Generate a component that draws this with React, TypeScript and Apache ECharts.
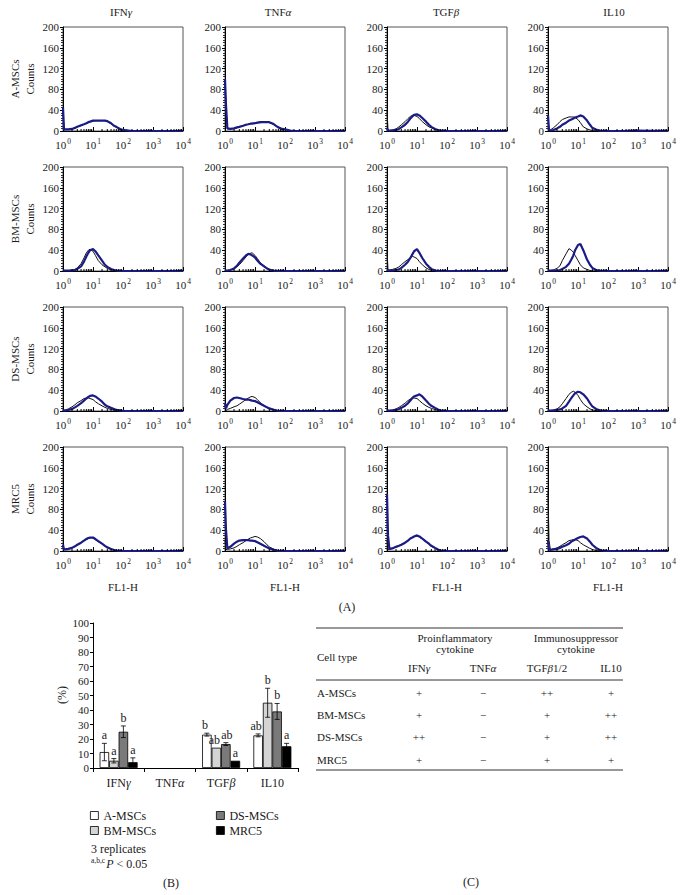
import React, { useEffect, useRef } from "react";
import * as echarts from "echarts";

// ---------- Data ----------
const FL = [1, 1.08, 1.2, 1.5, 2, 2.5, 3, 4, 5, 6, 7, 8, 10, 12, 15, 20, 25, 30, 40, 50, 60, 80, 100, 150, 200, 300, 1000, 10000];
const LOG_MINOR = [2, 3, 4, 5, 6, 7, 8, 9, 20, 30, 40, 50, 60, 70, 80, 90, 200, 300, 400, 500, 600, 700, 800, 900, 2000, 3000, 4000, 5000, 6000, 7000, 8000, 9000];
const X_TICK_EXP = ["0", "1", "2", "3", "4"];
const COL_TITLES = ["IFNγ", "TNFα", "TGFβ", "IL10"];
const ROW_TITLES = ["A-MSCs", "BM-MSCs", "DS-MSCs", "MRC5"];

// A-MSCs
const aIfnIso = [40, 2, 3, 3, 4, 6, 8, 10, 13, 15, 16, 18, 19, 20, 20, 20, 20, 18, 14, 10, 7, 4, 2, 1, 0, 0, 0, 0];
const aIfnStain = [45, 3, 3, 3, 4, 6, 8, 11, 13, 15, 17, 18, 20, 20, 20, 20, 20, 19, 15, 10, 8, 4, 2, 1, 0, 0, 0, 0];
const aTnfIso = [95, 45, 4, 4, 5, 6, 8, 10, 12, 13, 14, 15, 15, 16, 16, 17, 17, 16, 13, 10, 7, 4, 3, 1, 0, 0, 0, 0];
const aTnfStain = [100, 50, 5, 4, 5, 7, 8, 10, 12, 13, 14, 14, 15, 16, 17, 17, 17, 17, 14, 10, 7, 4, 3, 1, 0, 0, 0, 0];
const aTgfIso = [40, 2, 1, 2, 4, 8, 12, 18, 24, 28, 30, 30, 28, 24, 18, 12, 8, 6, 3, 1, 0, 0, 0, 0, 0, 0, 0, 0];
const aTgfStain = [5, 1, 1, 1, 2, 4, 7, 12, 18, 24, 28, 31, 32, 30, 25, 18, 12, 8, 4, 2, 1, 0, 0, 0, 0, 0, 0, 0];
const aIl10Iso = [5, 1, 2, 6, 12, 18, 22, 25, 27, 27, 27, 26, 22, 16, 8, 4, 2, 1, 0, 0, 0, 0, 0, 0, 0, 0, 0, 0];
const aIl10Stain = [30, 2, 1, 2, 5, 8, 12, 16, 20, 22, 24, 26, 28, 30, 28, 20, 12, 6, 3, 1, 0, 0, 0, 0, 0, 0, 1, 0];
// BM-MSCs
const bmIfnIso = [2, 1, 1, 1, 2, 3, 6, 14, 25, 35, 40, 42, 38, 30, 20, 12, 8, 5, 2, 1, 0, 0, 0, 0, 0, 0, 0, 0];
const bmIfnStain = [2, 1, 1, 1, 1, 2, 4, 9, 18, 28, 35, 40, 42, 38, 30, 20, 12, 8, 4, 2, 1, 0, 0, 0, 0, 0, 0, 0];
const bmTnfIso = [2, 1, 1, 2, 4, 8, 12, 20, 27, 32, 34, 35, 30, 24, 16, 10, 6, 3, 1, 0, 0, 0, 0, 0, 0, 0, 0, 0];
const bmTnfStain = [2, 1, 1, 2, 5, 10, 16, 24, 30, 33, 32, 30, 26, 20, 14, 9, 5, 3, 1, 0, 0, 0, 0, 0, 0, 0, 0, 0];
const bmTgfIso = [40, 2, 2, 3, 5, 8, 12, 18, 22, 26, 28, 27, 24, 18, 12, 6, 3, 1, 0, 0, 0, 0, 0, 0, 0, 0, 0, 0];
const bmTgfStain = [3, 1, 1, 1, 2, 3, 6, 12, 18, 25, 32, 38, 42, 35, 25, 14, 8, 4, 1, 0, 0, 0, 0, 0, 0, 0, 0, 0];
const bmIl10Iso = [3, 1, 1, 2, 5, 10, 20, 33, 43, 40, 36, 30, 20, 12, 6, 3, 1, 0, 0, 0, 0, 0, 0, 0, 0, 0, 0, 0];
const bmIl10Stain = [2, 1, 1, 1, 1, 2, 4, 8, 14, 22, 30, 40, 50, 52, 40, 22, 12, 6, 2, 1, 0, 0, 0, 0, 0, 0, 0, 0];
// DS-MSCs
const dsIfnIso = [3, 1, 2, 4, 8, 12, 16, 20, 24, 25, 25, 24, 22, 18, 14, 10, 7, 5, 3, 2, 1, 0, 0, 0, 0, 0, 0, 0];
const dsIfnStain = [3, 1, 1, 2, 4, 7, 10, 15, 20, 24, 27, 29, 30, 28, 24, 18, 12, 9, 6, 4, 2, 1, 0, 0, 0, 0, 0, 0];
const dsTnfIso = [10, 1, 3, 5, 8, 10, 13, 18, 22, 25, 27, 28, 26, 22, 16, 10, 7, 5, 3, 1, 0, 0, 0, 0, 0, 0, 0, 0];
const dsTnfStain = [15, 5, 12, 20, 25, 26, 25, 23, 22, 22, 21, 20, 19, 17, 14, 10, 7, 5, 3, 1, 0, 0, 0, 0, 0, 0, 0, 0];
const dsTgfIso = [3, 1, 1, 2, 4, 7, 10, 15, 20, 23, 25, 25, 24, 20, 15, 10, 7, 5, 3, 1, 0, 0, 0, 0, 0, 0, 0, 0];
const dsTgfStain = [3, 1, 1, 1, 2, 4, 6, 10, 15, 20, 25, 28, 30, 32, 28, 20, 14, 10, 6, 3, 1, 0, 0, 0, 0, 0, 0, 0];
const dsIl10Iso = [2, 1, 1, 2, 4, 8, 14, 24, 32, 36, 38, 36, 30, 22, 14, 8, 4, 2, 1, 0, 0, 0, 0, 0, 0, 0, 0, 0];
const dsIl10Stain = [2, 1, 1, 1, 2, 3, 5, 10, 18, 25, 30, 34, 37, 36, 32, 24, 15, 9, 4, 2, 1, 0, 0, 0, 0, 0, 0, 0];
// MRC5
const mrIfnIso = [10, 3, 3, 4, 6, 9, 12, 16, 20, 22, 24, 25, 25, 22, 18, 14, 10, 7, 4, 2, 1, 0, 0, 0, 0, 0, 0, 0];
const mrIfnStain = [12, 3, 3, 4, 6, 9, 12, 16, 20, 23, 25, 26, 26, 23, 19, 14, 10, 7, 4, 2, 1, 0, 0, 0, 0, 0, 0, 0];
const mrTnfIso = [20, 3, 3, 4, 6, 9, 12, 16, 20, 23, 25, 26, 28, 27, 24, 18, 12, 8, 4, 2, 1, 0, 0, 0, 0, 0, 0, 0];
const mrTnfStain = [95, 40, 5, 8, 14, 18, 20, 21, 21, 21, 20, 20, 19, 17, 14, 10, 7, 5, 3, 1, 0, 0, 0, 0, 0, 0, 0, 0];
const mrTgfIso = [20, 3, 3, 5, 8, 10, 12, 16, 20, 24, 26, 28, 29, 27, 23, 18, 13, 9, 5, 3, 1, 0, 0, 0, 0, 0, 0, 0];
const mrTgfStain = [110, 30, 4, 5, 8, 10, 12, 16, 20, 24, 26, 28, 30, 28, 24, 18, 14, 10, 6, 3, 1, 0, 0, 0, 0, 0, 0, 0];
const mrIl10Iso = [115, 20, 3, 4, 6, 9, 12, 16, 20, 21, 22, 22, 20, 16, 12, 8, 5, 3, 1, 0, 0, 0, 0, 0, 0, 0, 0, 0];
const mrIl10Stain = [20, 3, 2, 3, 4, 6, 8, 11, 14, 18, 20, 22, 25, 27, 28, 24, 18, 12, 6, 3, 1, 0, 0, 0, 0, 0, 0, 0];

const ISO = [
  [aIfnIso, aTnfIso, aTgfIso, aIl10Iso],
  [bmIfnIso, bmTnfIso, bmTgfIso, bmIl10Iso],
  [dsIfnIso, dsTnfIso, dsTgfIso, dsIl10Iso],
  [mrIfnIso, mrTnfIso, mrTgfIso, mrIl10Iso],
];
const STAIN = [
  [aIfnStain, aTnfStain, aTgfStain, aIl10Stain],
  [bmIfnStain, bmTnfStain, bmTgfStain, bmIl10Stain],
  [dsIfnStain, dsTnfStain, dsTgfStain, dsIl10Stain],
  [mrIfnStain, mrTnfStain, mrTgfStain, mrIl10Stain],
];

// Bar chart (B)
const cytokines = ["IFNγ", "TNFα", "TGFβ", "IL10"];
const cellTypes = ["A-MSCs", "BM-MSCs", "DS-MSCs", "MRC5"];
const aMeans = [11, null, 23, 22.5];
const aErrs = [6, 0, 1, 1];
const aLetters = ["a", "", "b", "ab"];
const bmMeans = [5, null, 14, 45];
const bmErrs = [1.5, 0, 0, 10];
const bmLetters = ["a", "", "ab", "b"];
const dsMeans = [25, null, 16.5, 39];
const dsErrs = [4, 0, 1, 5.5];
const dsLetters = ["b", "", "ab", "b"];
const mrMeans = [4, null, 5, 15];
const mrErrs = [3, 0, 0, 2];
const mrLetters = ["a", "", "a", "a"];
const barColors = ["#ffffff", "#d4d4d4", "#7a7a7a", "#000000"];

// Table (C)
const tableHeaders = ["IFNγ", "TNFα", "TGFβ1/2", "IL10"];
const ifnMarks = ["+", "+", "++", "+"];
const tnfMarks = ["−", "−", "−", "−"];
const tgfMarks = ["++", "+", "+", "+"];
const il10Marks = ["+", "++", "++", "+"];

// ---------- Layout ----------
const FONT = "Liberation Serif";
const TXT = "#1a1a1a";
const BLUE = "#1b1b85";
const COL_LEFT = [63, 225, 387, 548];
const ROW_TOP = [27, 167, 307, 447];
const PW = 120;
const PH = 104;
const BAR_W = 9.5;
// small horizontal nudges for the significance letters (per cell type, per cytokine)
const LETTER_DX = [
  [0, 0, -2, -2],
  [0, 0, -2, 0],
  [0, 0, 1, 0],
  [0, 0, 0, 0],
];

const greekRich = {
  n: { fontFamily: FONT, fontSize: 11, color: TXT },
  i: { fontFamily: FONT, fontSize: 11, color: TXT, fontStyle: "italic" },
};
const greekRich12 = {
  n: { fontFamily: FONT, fontSize: 12, color: TXT },
  i: { fontFamily: FONT, fontSize: 12, color: TXT, fontStyle: "italic" },
};
function greekFmt(s: string) {
  const m = s.match(/^([^αβγ]*)([αβγ])(.*)$/);
  if (!m) return `{n|${s}}`;
  return `{n|${m[1]}}{i|${m[2]}}` + (m[3] ? `{n|${m[3]}}` : "");
}

function txt(x: number, y: number, text: string, extra: any = {}) {
  const { rotation, align, fontSize, rich, ...rest } = extra;
  return {
    type: "text",
    x,
    y,
    rotation: rotation || 0,
    silent: true,
    style: {
      text,
      fontFamily: FONT,
      fontSize: fontSize || 11,
      fill: TXT,
      align: align || "center",
      textAlign: align || "center",
      verticalAlign: "middle",
      textVerticalAlign: "middle",
      rich,
      ...rest,
    },
  };
}

function hline(x1: number, x2: number, y: number, w = 1) {
  return {
    type: "line",
    silent: true,
    shape: { x1, y1: y, x2, y2: y },
    style: { stroke: "#333", lineWidth: w },
  };
}

function buildOption() {
  const grid: any[] = [];
  const xAxis: any[] = [];
  const yAxis: any[] = [];
  const series: any[] = [];
  const graphics: any[] = [];

  for (let r = 0; r < 4; r++) {
    for (let c = 0; c < 4; c++) {
      const k = r * 4 + c;
      grid.push({
        left: COL_LEFT[c],
        top: ROW_TOP[r],
        width: PW,
        height: PH,
        show: true,
        borderColor: "#555",
        borderWidth: 1,
        backgroundColor: "transparent",
      });
      xAxis.push({
        gridIndex: k,
        type: "log",
        logBase: 10,
        min: 1,
        max: 10000,
        splitNumber: 4,
        axisLine: { lineStyle: { color: "#000", width: 1 } },
        axisTick: { show: true, inside: true, length: 4, lineStyle: { color: "#000" } },
        axisLabel: {
          color: TXT,
          fontFamily: FONT,
          fontSize: 11,
          margin: 6,
          formatter: (v: number) => `{b|10}{s|${X_TICK_EXP[Math.round(Math.log10(v))]}}`,
          rich: {
            b: { fontFamily: FONT, fontSize: 11, color: TXT, verticalAlign: "bottom" },
            s: { fontFamily: FONT, fontSize: 7.5, color: TXT, verticalAlign: "bottom", padding: [0, 0, 5, 1] },
          },
        },
        splitLine: { show: false },
      });
      yAxis.push({
        gridIndex: k,
        type: "value",
        min: 0,
        max: 200,
        interval: 40,
        axisLine: { show: true, lineStyle: { color: "#000", width: 1 } },
        axisTick: { show: true, length: 3, lineStyle: { color: "#000" } },
        minorTick: { show: true, splitNumber: 8, length: 2, lineStyle: { color: "#333" } },
        axisLabel: { color: TXT, fontFamily: FONT, fontSize: 11, margin: 4 },
        splitLine: { show: false },
      });
      series.push({
        type: "line",
        xAxisIndex: k,
        yAxisIndex: k,
        showSymbol: false,
        silent: true,
        z: 2,
        lineStyle: { color: "#111", width: 1 },
        data: FL.map((f, i) => [f, ISO[r][c][i]]),
      });
      series.push({
        type: "line",
        xAxisIndex: k,
        yAxisIndex: k,
        showSymbol: false,
        silent: true,
        z: 3,
        lineStyle: { color: BLUE, width: 2.2 },
        data: FL.map((f, i) => [f, STAIN[r][c][i]]),
      });
      series.push({
        type: "custom",
        xAxisIndex: k,
        yAxisIndex: k,
        silent: true,
        z: 4,
        data: LOG_MINOR.map((v) => [v, 0]),
        renderItem: (_p: any, api: any) => {
          const p = api.coord([api.value(0), 0]);
          return {
            type: "line",
            shape: { x1: p[0], y1: p[1], x2: p[0], y2: p[1] - 2 },
            style: { stroke: "#000", lineWidth: 1 },
          };
        },
      });
    }
  }

  // column titles
  const titleX = [121, 278, 446, 614];
  COL_TITLES.forEach((t, c) => {
    graphics.push(txt(titleX[c], 12, greekFmt(t), { rich: greekRich }));
  });
  // row labels
  ROW_TITLES.forEach((t, r) => {
    const cy = ROW_TOP[r] + PH / 2;
    graphics.push(txt(15, cy, t, { rotation: Math.PI / 2 }));
    graphics.push(txt(30, cy, "Counts", { rotation: Math.PI / 2 }));
  });
  // FL1-H
  for (let c = 0; c < 4; c++) {
    graphics.push(txt(COL_LEFT[c] + PW / 2, 587, "FL1-H"));
  }
  graphics.push(txt(347, 607, "(A)", { fontSize: 12 }));

  // ---- Bar chart (B) ----
  const bi = 16;
  grid.push({ left: 93, top: 623, width: 205, height: 145 });
  xAxis.push({
    gridIndex: bi,
    type: "category",
    data: cytokines,
    axisLine: { lineStyle: { color: "#000" } },
    axisTick: { show: true, length: 4, alignWithLabel: false, interval: 0, lineStyle: { color: "#000" } },
    axisLabel: { margin: 9, interval: 0, formatter: (v: string) => greekFmt(v), rich: greekRich12 },
    splitLine: { show: false },
  });
  yAxis.push({
    gridIndex: bi,
    type: "value",
    min: 0,
    max: 100,
    interval: 10,
    axisLine: { show: true, lineStyle: { color: "#000" } },
    axisTick: { show: true, length: 3, lineStyle: { color: "#000" } },
    axisLabel: { color: TXT, fontFamily: FONT, fontSize: 11, margin: 4 },
    splitLine: { show: false },
  });
  const meansAll = [aMeans, bmMeans, dsMeans, mrMeans];
  const errsAll = [aErrs, bmErrs, dsErrs, mrErrs];
  const lettersAll = [aLetters, bmLetters, dsLetters, mrLetters];
  cellTypes.forEach((name, si) => {
    series.push({
      type: "bar",
      name,
      xAxisIndex: bi,
      yAxisIndex: bi,
      barWidth: BAR_W,
      barGap: "0%",
      silent: true,
      itemStyle: { color: barColors[si], borderColor: "#000", borderWidth: 0.8 },
      data: meansAll[si].map((m) => (m == null ? "-" : m)),
    });
  });
  cellTypes.forEach((name, si) => {
    const letters = lettersAll[si];
    series.push({
      type: "custom",
      xAxisIndex: bi,
      yAxisIndex: bi,
      silent: true,
      z: 5,
      data: cytokines.map((_, j) => [j, meansAll[si][j] == null ? NaN : meansAll[si][j], errsAll[si][j]]),
      renderItem: (params: any, api: any) => {
        const j = api.value(0);
        const m = api.value(1);
        const e = api.value(2);
        if (m == null || isNaN(m)) return null;
        const off = (si - 1.5) * BAR_W;
        const base = api.coord([j, m]);
        const x = base[0] + off;
        const yTop = api.coord([j, m + e])[1];
        const yBot = api.coord([j, m - e])[1];
        const ch: any[] = [];
        const stroke = "#000";
        if (e > 0) {
          ch.push({ type: "line", shape: { x1: x, y1: yTop, x2: x, y2: yBot }, style: { stroke, lineWidth: 0.8 } });
          ch.push({ type: "line", shape: { x1: x - 2.5, y1: yTop, x2: x + 2.5, y2: yTop }, style: { stroke, lineWidth: 0.8 } });
          ch.push({ type: "line", shape: { x1: x - 2.5, y1: yBot, x2: x + 2.5, y2: yBot }, style: { stroke, lineWidth: 0.8 } });
        }
        ch.push({
          type: "text",
          x: x + LETTER_DX[si][params.dataIndex],
          y: yTop - 2,
          style: {
            text: letters[params.dataIndex],
            fontFamily: FONT,
            fontSize: 12,
            fill: TXT,
            align: "center",
            textAlign: "center",
            verticalAlign: "bottom",
            textVerticalAlign: "bottom",
          },
        });
        return { type: "group", children: ch };
      },
    });
  });
  graphics.push(txt(62, 695, "(%)", { rotation: Math.PI / 2, fontSize: 12 }));
  graphics.push(txt(91, 849, "3 replicates", { align: "left", fontSize: 12 }));
  graphics.push(
    txt(91, 863, "{s|a,b,c}{i|P}{n| < 0.05}", {
      align: "left",
      rich: {
        s: { fontFamily: FONT, fontSize: 7.5, color: TXT, verticalAlign: "bottom", padding: [0, 1, 6, 0] },
        i: { fontFamily: FONT, fontSize: 12, color: TXT, fontStyle: "italic", verticalAlign: "bottom" },
        n: { fontFamily: FONT, fontSize: 12, color: TXT, verticalAlign: "bottom" },
      },
    })
  );
  graphics.push(txt(171, 883, "(B)", { fontSize: 12 }));

  // ---- Table (C) ----
  graphics.push(hline(316, 623, 628, 1.2));
  graphics.push(hline(316, 623, 680, 1));
  graphics.push(hline(316, 623, 770, 1.2));
  graphics.push(txt(317, 657, "Cell type", { align: "left" }));
  graphics.push(txt(455, 638, "Proinflammatory"));
  graphics.push(txt(455, 649, "cytokine"));
  graphics.push(txt(576, 638, "Immunosuppressor"));
  graphics.push(txt(576, 649, "cytokine"));
  const colX = [419, 483, 547, 611];
  tableHeaders.forEach((h, i) => graphics.push(txt(colX[i], 668, greekFmt(h), { rich: greekRich })));
  const rowY = [693, 715, 737, 760];
  const marks = [ifnMarks, tnfMarks, tgfMarks, il10Marks];
  cellTypes.forEach((ct, r) => {
    graphics.push(txt(317, rowY[r], ct, { align: "left" }));
    marks.forEach((col, i) => graphics.push(txt(colX[i], rowY[r], col[r])));
  });
  graphics.push(txt(471, 882, "(C)", { fontSize: 12 }));

  const legendText = { fontFamily: FONT, fontSize: 12, color: TXT, lineHeight: 13 };
  const legItem = (n: string, si: number) => ({
    name: n,
    icon: "rect",
    itemStyle: { color: barColors[si], borderColor: "#000", borderWidth: 0.8 },
  });

  return {
    animation: false,
    backgroundColor: "#fff",
    grid,
    xAxis,
    yAxis,
    series,
    legend: [
      {
        left: 90,
        top: 809,
        padding: 0,
        orient: "vertical",
        itemWidth: 8,
        itemHeight: 8,
        itemGap: 2,
        itemStyle: {},
        selectedMode: false,
        textStyle: legendText,
        data: [legItem("A-MSCs", 0), legItem("BM-MSCs", 1)],
      },
      {
        left: 216,
        top: 809,
        padding: 0,
        orient: "vertical",
        itemWidth: 8,
        itemHeight: 8,
        itemGap: 2,
        selectedMode: false,
        textStyle: legendText,
        data: [legItem("DS-MSCs", 2), legItem("MRC5", 3)],
      },
    ],
    graphic: { elements: graphics },
  };
}

export default function App() {
  const ref = useRef<HTMLDivElement>(null);
  useEffect(() => {
    document.body.style.margin = "0";
    if (!ref.current) return;
    const chart = echarts.init(ref.current, null, { renderer: "svg" });
    chart.setOption(buildOption() as any);
    return () => chart.dispose();
  }, []);
  return <div ref={ref} style={{ width: 685, height: 895 }} />;
}
